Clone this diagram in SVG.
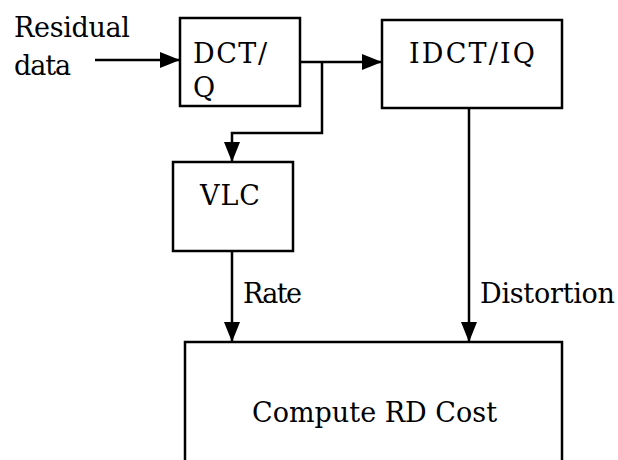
<svg xmlns="http://www.w3.org/2000/svg" width="618" height="460" viewBox="0 0 618 460">
<defs>
<style>
.box{fill:#fff;stroke:#000;stroke-width:2.5}
.ln{fill:none;stroke:#000;stroke-width:2.5}
text{font-family:"DejaVu Serif",serif;font-size:27px;fill:#000}
</style>
<marker id="ah" viewBox="0 0 20 16" refX="20" refY="8" markerWidth="20" markerHeight="16" markerUnits="userSpaceOnUse" orient="auto">
<path d="M0,0 L20,8 L0,16 Z" fill="#000"/>
</marker>
</defs>
<rect width="618" height="460" fill="#fff"/>
<g id="input-label">
<text x="14" y="37" textLength="116">Residual</text>
<text x="14" y="75" textLength="57">data</text>
</g>
<g id="dctq">
<rect class="box" x="180" y="18" width="120" height="88"/>
<text x="193" y="63" textLength="74">DCT/</text>
<text x="193" y="97">Q</text>
</g>
<g id="idctiq">
<rect class="box" x="382" y="20" width="180" height="88"/>
<text x="409" y="63" textLength="126">IDCT/IQ</text>
</g>
<g id="vlc">
<rect class="box" x="173" y="162" width="120" height="89"/>
<text x="200" y="205" textLength="60">VLC</text>
</g>
<g id="rdcost">
<rect class="box" x="185" y="342" width="377" height="130"/>
<text x="252" y="422" textLength="245">Compute RD Cost</text>
</g>
<g id="connectors">
<line class="ln" x1="95" y1="60" x2="180" y2="60" marker-end="url(#ah)"/>
<line class="ln" x1="300" y1="62" x2="382" y2="62" marker-end="url(#ah)"/>
<polyline class="ln" points="322,62 322,133 232,133 232,162" marker-end="url(#ah)"/>
<line class="ln" x1="232" y1="251" x2="232" y2="342" marker-end="url(#ah)"/>
<line class="ln" x1="469" y1="108" x2="469" y2="342" marker-end="url(#ah)"/>
<text x="243" y="303" textLength="59">Rate</text>
<text x="480" y="303" textLength="135">Distortion</text>
</g>
</svg>
